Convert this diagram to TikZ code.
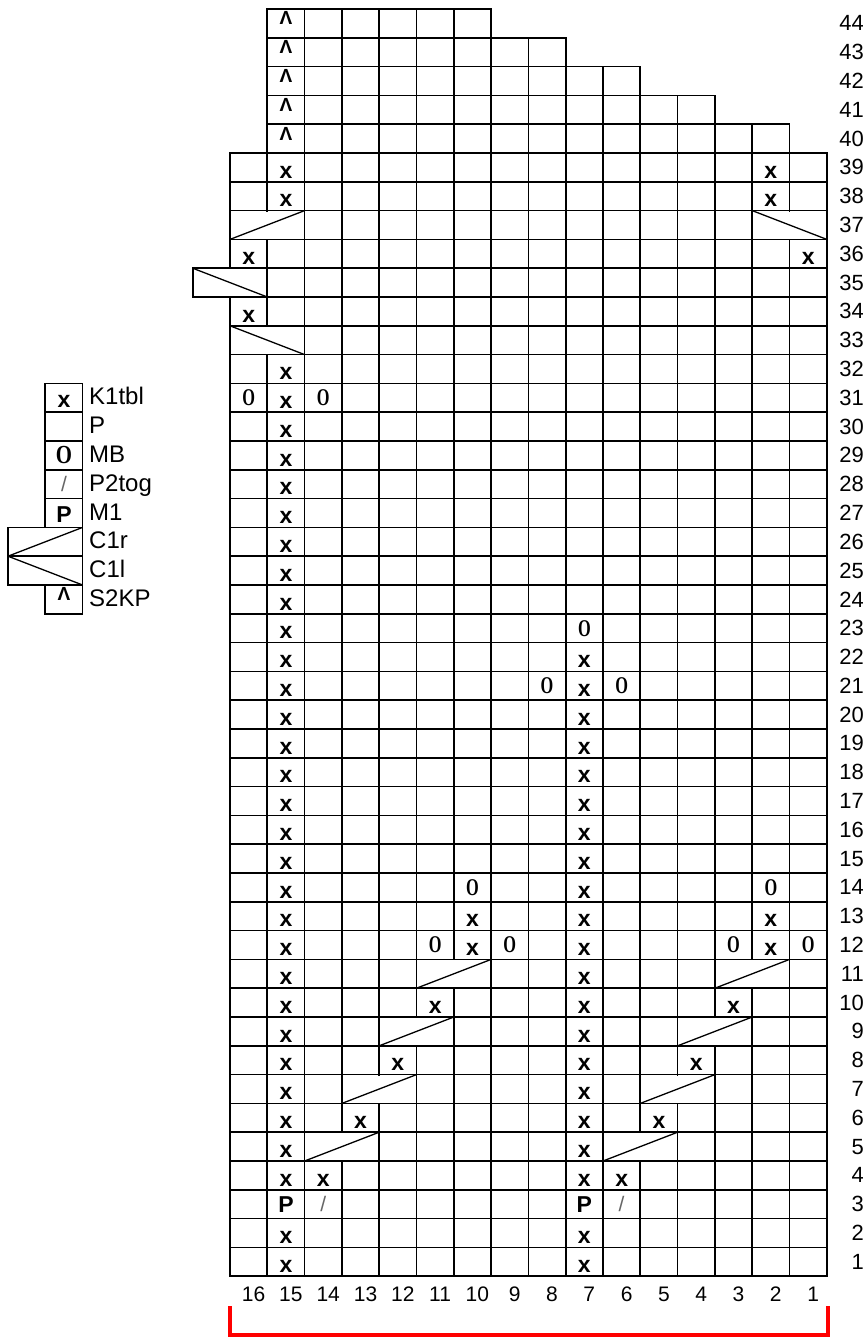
\documentclass[tikz,border=0pt]{standalone}
\usepackage{fontspec}
\setmainfont{Liberation Sans}
\newfontfamily\chartserif{Liberation Serif}
\begin{document}
\begin{tikzpicture}[x=1pt,y=-1pt,
  declare function={cx(\i)=230+(16-\i)*37.3; ry(\j)=9+(44-\j)*28.8;},
  gridline/.style={line width=1.7pt,black},
  cableline/.style={line width=1.3pt,black},
  symx/.style={inner sep=0pt,font=\fontsize{23}{23}\selectfont\bfseries},
  symo/.style={inner sep=0pt,font=\chartserif\fontsize{24}{24}\selectfont\bfseries},
  symob/.style={inner sep=0pt,font=\chartserif\fontsize{26}{26}\selectfont\bfseries},
  symp/.style={inner sep=0pt,font=\fontsize{23}{23}\selectfont\bfseries},
  symslash/.style={inner sep=0pt,text=black!60,font=\fontsize{21}{21}\selectfont},
  symcaret/.style={inner sep=0pt,anchor=north,font=\fontsize{19}{19}\selectfont\bfseries},
  rowlab/.style={inner sep=0pt,anchor=east,font=\fontsize{22}{22}\selectfont},
  collab/.style={inner sep=0pt,font=\fontsize{21}{21}\selectfont},
  legtext/.style={inner sep=0pt,anchor=base west,font=\fontsize{24}{24}\selectfont},
  bracket/.style={red,line width=4pt}
]
\useasboundingbox (0,0) rectangle (862,1338);

% full rows 1..38
\foreach \r in {1,...,38}
  \foreach \c in {1,...,16}
    \draw[gridline] ({cx(\c)},{ry(\r)}) rectangle ++(37.3,28.8);
% top rows
\foreach \r/\a/\b in {39/1/16,40/2/15,41/4/15,42/6/15,43/8/15,44/10/15}
  \foreach \c in {\a,...,\b}
    \draw[gridline] ({cx(\c)},{ry(\r)}) rectangle ++(37.3,28.8);

% cable spans, rising (bottom-left to top-right)
\foreach \r/\c in {5/14,5/6,7/13,7/5,9/12,9/4,11/11,11/3,37/16}{
  \fill[white] ({cx(\c)+0.9},{ry(\r)+0.9}) rectangle ++(72.8,27.0);
  \draw[gridline] ({cx(\c)},{ry(\r)}) rectangle ++(74.6,28.8);
  \draw[cableline] ({cx(\c)},{ry(\r)+28.8}) -- ++(74.6,-28.8);
}
% cable spans, falling (top-left to bottom-right)
\foreach \r/\c in {37/2,35/17,33/16}{
  \fill[white] ({cx(\c)+0.9},{ry(\r)+0.9}) rectangle ++(72.8,27.0);
  \draw[gridline] ({cx(\c)},{ry(\r)}) rectangle ++(74.6,28.8);
  \draw[cableline] ({cx(\c)},{ry(\r)}) -- ++(74.6,28.8);
}

% K1tbl symbols
\foreach \r in {1,2,4,5,...,32,38,39}
  \node[symx] (x-15-\r) at ({cx(15)+18.65},{ry(\r)+19}) {x};
\foreach \r in {1,2,4,5,...,22}
  \node[symx] (x-7-\r) at ({cx(7)+18.65},{ry(\r)+19}) {x};
\foreach \c/\r in {14/4,6/4,13/6,5/6,12/8,4/8,11/10,3/10,10/12,10/13,2/12,2/13,2/38,2/39,16/34,16/36,1/36}
  \node[symx] (x-\c-\r) at ({cx(\c)+18.65},{ry(\r)+19}) {x};
% MB symbols
\foreach \c/\r in {11/12,9/12,10/14,3/12,1/12,2/14,8/21,6/21,7/23,16/31,14/31}
  \node[symo] (o-\c-\r) at ({cx(\c)+18.65},{ry(\r)+14.4}) {\scalebox{0.68}[1]{O}};
% M1 symbols
\foreach \c in {15,7}
  \node[symp] (p-\c-3) at ({cx(\c)+18.65},{ry(3)+14.4}) {P};
% P2tog symbols
\foreach \c in {14,6}
  \node[symslash] (s-\c-3) at ({cx(\c)+18.65},{ry(3)+14.4}) {/};
% S2KP symbols
\foreach \r in {40,...,44}
  \node[symcaret] (k-15-\r) at ({cx(15)+18.65},{ry(\r)+2.6}) {Λ};

% row numbers
\foreach \r in {1,...,44}
  \node[rowlab] (row\r) at (864,{ry(\r)+14.4}) {\r};
% column numbers
\foreach \c in {1,...,16}
  \node[collab] (col\c) at ({cx(\c)+23.6},1294.5) {\c};

% red bracket
\coordinate (brL) at (230,1306);
\coordinate (brLb) at (230,1335);
\coordinate (brRb) at (828,1335);
\coordinate (brR) at (828,1306);
\draw[bracket] (brL) -- (brLb) -- (brRb) -- (brR);

% legend
\foreach \r in {31,30,29,28,27,24}
  \draw[gridline] (45.3,{ry(\r)}) rectangle ++(37.3,28.8);
\foreach \r in {26,25}
  \draw[gridline] (8,{ry(\r)}) rectangle ++(74.6,28.8);
\draw[cableline] (8,{ry(26)+28.8}) -- (82.6,{ry(26)});
\draw[cableline] (8,{ry(25)}) -- (82.6,{ry(25)+28.8});
\node[symx] (lgx) at (64,{ry(31)+18}) {x};
\node[symob] (lgo) at (64,{ry(29)+14.4}) {\scalebox{0.8}[1]{O}};
\node[symslash] (lgs) at (64,{ry(28)+14.4}) {/};
\node[symp] (lgp) at (64,{ry(27)+15.5}) {P};
\node[symcaret] (lgk) at (64,{ry(24)+1.9}) {Λ};
\node[legtext] (lt1) at (89,{ry(31)+21.4}) {K1tbl};
\node[legtext] (lt2) at (89,{ry(30)+21.4}) {P};
\node[legtext] (lt3) at (89,{ry(29)+21.4}) {MB};
\node[legtext] (lt4) at (89,{ry(28)+21.4}) {P2tog};
\node[legtext] (lt5) at (89,{ry(27)+21.4}) {M1};
\node[legtext] (lt6) at (89,{ry(26)+21.4}) {C1r};
\node[legtext] (lt7) at (89,{ry(25)+21.4}) {C1l};
\node[legtext] (lt8) at (89,{ry(24)+21.4}) {S2KP};
\end{tikzpicture}
\end{document}
